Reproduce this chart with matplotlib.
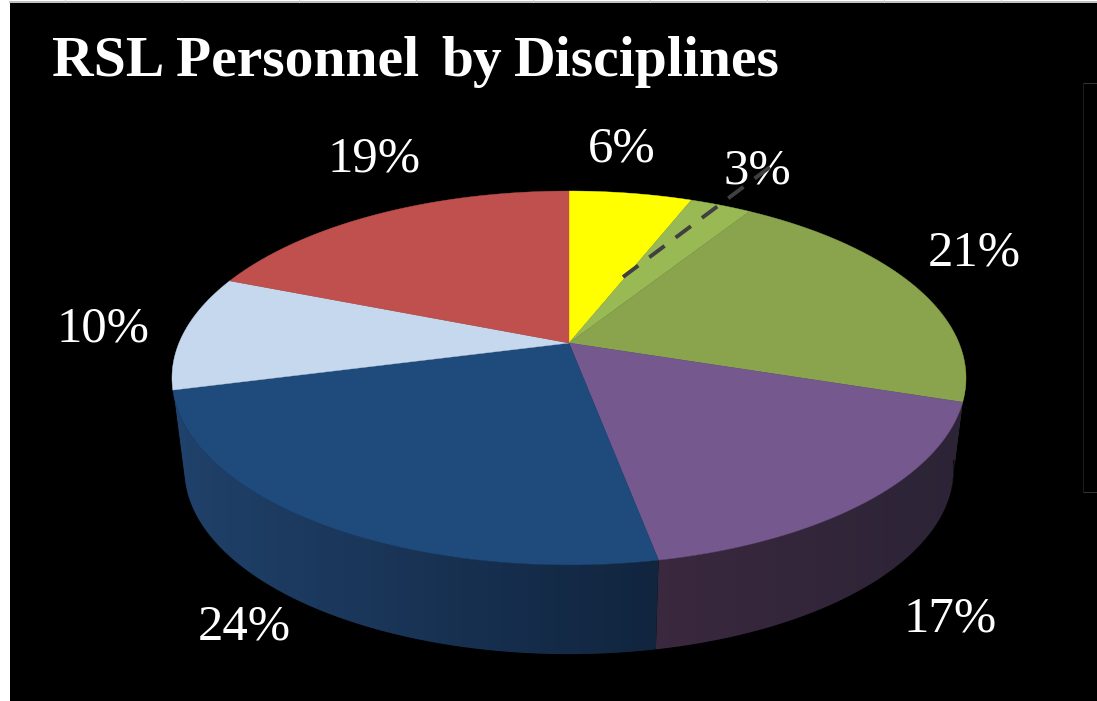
import numpy as np
import matplotlib
matplotlib.use("Agg")
import matplotlib.pyplot as plt
from matplotlib.colors import to_rgb
from matplotlib.patches import Polygon, Rectangle

# slices run clockwise from twelve o'clock
shares = [6, 3, 21, 17, 24, 10, 19]
share_labels = ["6%", "3%", "21%", "17%", "24%", "10%", "19%"]
top_colors = ["#ffff00", "#98b954", "#8aa44e", "#74588e", "#1f4a7c", "#c5d8ee", "#bf504d"]
# side wall shade from left to right, None where the wall is hidden
side_colors = [None, None, ("#3c4623", "#3c4623"), ("#3a283e", "#2c2436"),
               ("#20416a", "#11253f"), None, None]
label_pos = [(622, 161), (757, 184), (974, 265), (950, 631), (244, 640), (103, 342), (374, 172)]
title_words = ["RSL", "Personnel", "by", "Disciplines"]
title_x = [52, 176, 441, 514]

CX, CY = 569, 343
RX, PERSP, RY = 390, 0.187, 180.4
DEPTH = 92


def rim(deg, sx=1.0, sy=1.0, dy=0.0):
    """Project a pie angle onto the tilted disc, in pixels."""
    t = np.radians(deg)
    w = 1 + PERSP * np.cos(t)
    return CX + sx * RX * np.sin(t) / w, CY + dy - sy * RY * np.cos(t) / w


def lower_rim(deg):
    return rim(deg, 0.97, 0.99, DEPTH)


fig = plt.figure(figsize=(10.97, 7.01), dpi=100, facecolor="white")
ax = fig.add_axes([0, 0, 1, 1])
ax.axis("off")

# black slide background, with the sheet's grid showing along the top edge
ax.add_patch(Rectangle((10, 3), 1087, 698, fc="black", ec="none", zorder=0))
ax.plot([10, 1097], [2, 2], color="#b4b4b4", lw=1.2, zorder=1)
for x in np.arange(65, 1097, 117):
    ax.plot([x, x], [0, 2], color="#d0d0d0", lw=0.7, zorder=1)

# empty legend frame on the right
ax.plot([1097, 1083], [83, 83], color="#333333", lw=0.8, zorder=1)
ax.plot([1097, 1083], [492, 492], color="#333333", lw=0.8, zorder=1)
ax.plot([1083, 1083], [83, 492], color="#1c1c1c", lw=0.8, zorder=1)

edges = np.cumsum([0] + shares) * 3.6
WALL_FROM = 98

# side wall first, shaded in narrow vertical bands
for i, shade in enumerate(side_colors):
    if shade is None:
        continue
    angs = np.linspace(max(edges[i], WALL_FROM), edges[i + 1], 60)
    tx, ty = rim(angs)
    bx, by = lower_rim(angs)
    pts = np.column_stack([np.r_[tx, bx[::-1]], np.r_[ty, by[::-1]]])
    x0, x1 = pts[:, 0].min(), pts[:, 0].max()
    bands = max(int((x1 - x0) / 13), 2)
    ramp = np.linspace(to_rgb(shade[0]), to_rgb(shade[1]), bands)[np.newaxis, :, :]
    wall = Polygon(pts, transform=ax.transData, fc="none", ec="none")
    im = ax.imshow(ramp, extent=(x0, x1, pts[:, 1].max(), pts[:, 1].min()),
                   aspect="auto", interpolation="nearest", zorder=2 + i)
    im.set_clip_path(wall)

# soften the clipped wall outline
outline = np.linspace(WALL_FROM, edges[5], 200)
ox, oy = lower_rim(outline)
sx1, sy1 = rim(edges[5])
ax.plot(np.r_[ox, sx1], np.r_[oy, sy1], color="black", lw=0.7, zorder=9)

# top face
for i, col in enumerate(top_colors):
    angs = np.linspace(edges[i], edges[i + 1], 80)
    x, y = rim(angs)
    pts = np.column_stack([np.r_[CX, x], np.r_[CY, y]])
    ax.add_patch(Polygon(pts, fc=col, ec=col, lw=0.3, zorder=10))

for (x, y), txt in zip(label_pos, share_labels):
    ax.text(x, y, txt, color="white", fontsize=36.5, family="Liberation Serif",
            ha="center", va="baseline", zorder=12)

# leader line for the smallest slice, it runs over its label
ax.plot([623, 770], [277, 167], color="#404040", lw=2.8, zorder=13,
        dashes=(4.9, 3.55), dash_capstyle="butt")

for x, word in zip(title_x, title_words):
    ax.text(x, 76, word, color="white", fontsize=41.5, family="Liberation Serif",
            weight="bold", ha="left", va="baseline", zorder=12)

ax.set_xlim(0, 1097)
ax.set_ylim(701, 0)

fig.savefig("out.png", dpi=100, facecolor="white")
